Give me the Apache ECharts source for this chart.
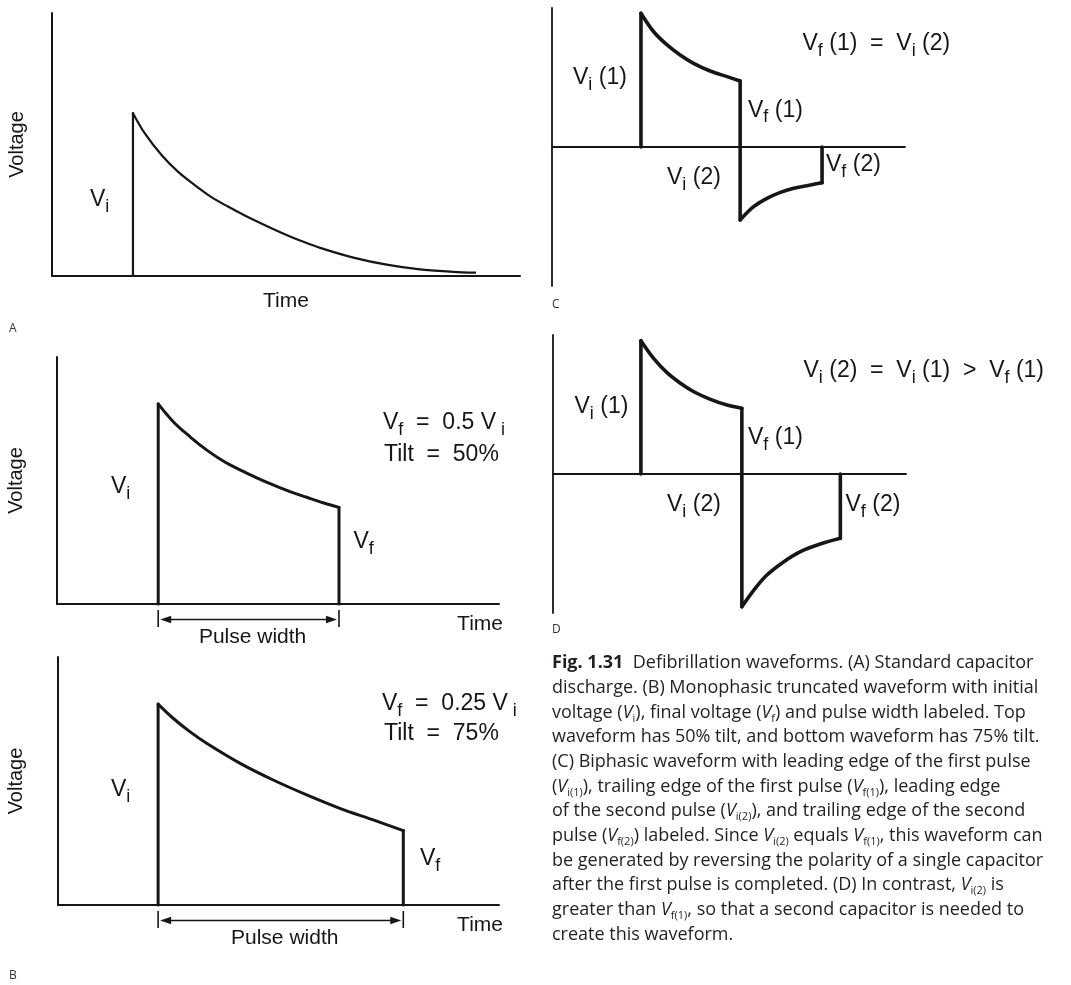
<!DOCTYPE html>
<html><head><meta charset="utf-8">
<script src="https://cdn.jsdelivr.net/npm/echarts@6/dist/echarts.min.js"></script>
<style>html,body{margin:0;padding:0;background:#fff}#c{width:1071px;height:985px}</style>
</head><body><div id="c"></div>
<script>
// ---- Data (time and voltage in % of each panel's axis range) ----
// Panel A: standard capacitor discharge
const aCurveT = [17.3, 19.8, 23.4, 26.9, 30.5, 34.0, 37.6, 41.2, 45.4, 50.1, 53.0, 57.3, 64.4, 71.5, 78.6, 85.7, 90.4];
const aCurveV = [61.9, 54.3, 46.0, 39.7, 34.6, 30.1, 26.4, 23.0, 19.4, 15.6, 13.5, 10.7, 7.0, 4.3, 2.5, 1.6, 1.25];
// Panel B (top): truncated, 50% tilt
const bTopT = [22.9, 26.3, 30.1, 33.9, 37.6, 41.4, 45.2, 48.9, 52.7, 56.5, 60.2, 63.8];
const bTopV = [81.0, 73.8, 67.7, 62.3, 57.9, 54.3, 51.1, 48.2, 45.5, 43.2, 41.0, 39.1];
// Panel B (bottom): truncated, 75% tilt
const bBotT = [22.7, 26.1, 29.9, 33.7, 41.3, 48.8, 56.4, 63.9, 71.5, 78.3];
const bBotV = [81.0, 75.3, 69.9, 65.2, 57.1, 50.4, 44.4, 39.0, 34.3, 30.0];
// Panel C: biphasic, single capacitor
const cPosT = [25.2, 28.8, 32.6, 36.3, 40.1, 44.8, 49.6, 53.3];
const cPosV = [96.2, 82.9, 73.4, 66.2, 60.2, 54.7, 50.6, 47.5];
const cNegT = [53.3, 57.1, 60.9, 64.7, 68.5, 73.2, 76.5];
const cNegV = [-52.5, -42.9, -36.9, -32.6, -29.7, -27.3, -25.7];
// Panel D: biphasic, second capacitor
const dPosT = [24.9, 28.5, 32.3, 36.1, 39.9, 44.6, 49.3, 53.5];
const dPosV = [95.9, 83.2, 72.9, 65.3, 59.2, 53.7, 49.6, 47.3];
const dNegT = [53.5, 56.9, 60.6, 65.4, 70.1, 75.7, 81.4];
const dNegV = [-95.5, -83.5, -72.7, -63.1, -55.9, -50.4, -46.3];

const captionLines = [
  [['b','Fig. 1.31'],['n','  Defibrillation waveforms. (A) Standard capacitor']],
  [['n','discharge. (B) Monophasic truncated waveform with initial']],
  [['n','voltage ('],['it','V'],['s','i'],['n','), final voltage ('],['it','V'],['s','f'],['n',') and pulse width labeled. Top']],
  [['n','waveform has 50% tilt, and bottom waveform has 75% tilt.']],
  [['n','(C) Biphasic waveform with leading edge of the first pulse']],
  [['n','('],['it','V'],['s','i(1)'],['n','), trailing edge of the first pulse ('],['it','V'],['s','f(1)'],['n','), leading edge']],
  [['n','of the second pulse ('],['it','V'],['s','i(2)'],['n','), and trailing edge of the second']],
  [['n','pulse ('],['it','V'],['s','f(2)'],['n',') labeled. Since '],['it','V'],['s','i(2)'],['n',' equals '],['it','V'],['s','f(1)'],['n',', this waveform can']],
  [['n','be generated by reversing the polarity of a single capacitor']],
  [['n','after the first pulse is completed. (D) In contrast, '],['it','V'],['s','i(2)'],['n',' is']],
  [['n','greater than '],['it','V'],['s','f(1)'],['n',', so that a second capacitor is needed to']],
  [['n','create this waveform.']]
];

// ---- Styling ----
const INK = '#161616';
const CAP = '#231f20';
const FONT = '"Liberation Sans", Arial, sans-serif';
const CFONT = '"Open Sans", sans-serif';
const CSIZE = 18;

const zip = (t, v) => t.map((x, i) => [x, v[i]]);
const last = a => a[a.length - 1];

function lineSeries(gi, data, w, smooth) {
  return {
    type: 'line', xAxisIndex: gi, yAxisIndex: gi, data,
    smooth: smooth ? 0.35 : false,
    symbol: 'none', showSymbol: false, silent: true, animation: false, clip: false,
    lineStyle: { color: INK, width: w, cap: 'round', join: 'round' }
  };
}

function pulseArrow(gi, t0, t1) {
  return {
    type: 'custom', xAxisIndex: gi, yAxisIndex: gi, data: [[t0, t1]], silent: true, animation: false, clip: false,
    renderItem(params, api) {
      const p0 = api.coord([api.value(0), 0]);
      const p1 = api.coord([api.value(1), 0]);
      const yA = p0[1] + 15.5, yT0 = p0[1] + 6, yT1 = p0[1] + 23;
      const ah = 11, aw = 3.8;
      const st = { stroke: INK, lineWidth: 1.6 };
      return {
        type: 'group', children: [
          { type: 'line', shape: { x1: p0[0], y1: yT0, x2: p0[0], y2: yT1 }, style: st },
          { type: 'line', shape: { x1: p1[0], y1: yT0, x2: p1[0], y2: yT1 }, style: st },
          { type: 'line', shape: { x1: p0[0] + 6, y1: yA, x2: p1[0] - 6, y2: yA }, style: st },
          { type: 'polygon', shape: { points: [[p0[0] + 2, yA], [p0[0] + 2 + ah, yA - aw], [p0[0] + 2 + ah, yA + aw]] }, style: { fill: INK } },
          { type: 'polygon', shape: { points: [[p1[0] - 2, yA], [p1[0] - 2 - ah, yA - aw], [p1[0] - 2 - ah, yA + aw]] }, style: { fill: INK } },
          { type: 'text', x: (p0[0] + p1[0]) / 2 + 4, y: p0[1] + 33.5,
            style: { text: 'Pulse width', font: '21px ' + FONT, fill: INK, align: 'center', verticalAlign: 'middle' } }
        ]
      };
    }
  };
}

function axisBase(gi, min, max, w) {
  return {
    type: 'value', gridIndex: gi, min, max, silent: true,
    axisLine: { show: true, onZero: true, lineStyle: { color: INK, width: w } },
    axisTick: { show: false }, axisLabel: { show: false }, splitLine: { show: false }
  };
}
const nameStyle = { fontFamily: FONT, fontSize: 20, color: INK };
const timeEnd = { name: 'Time', nameLocation: 'end', nameGap: 4,
  nameTextStyle: { fontFamily: FONT, fontSize: 21, color: INK, align: 'right', verticalAlign: 'top', padding: [10, 0, 0, 0] } };

function lab(x, y, parts) {
  return {
    type: 'text', x, y, silent: true,
    style: {
      text: parts.map(p => '{' + p[0] + '|' + p[1] + '}').join(''),
      font: '23px ' + FONT, fill: INK, align: 'left', verticalAlign: 'middle',
      rich: {
        m: { font: '23px ' + FONT, lineHeight: 32, fill: INK },
        s: { font: '18px ' + FONT, lineHeight: 18, verticalAlign: 'bottom', fill: INK }
      }
    }
  };
}
function letter(x, y, t) {
  return { type: 'text', x, y, silent: true,
    style: { text: t, font: '12px ' + CFONT, fill: '#333', align: 'left', verticalAlign: 'middle' } };
}

const graphics = [
  // Panel A
  lab(90, 200, [['m','V'],['s','i']]),
  letter(9, 329, 'A'),
  // Panel B top
  lab(383, 423, [['m','V'],['s','f'],['m','  =  0.5 V'],['s',' i']]),
  lab(384, 455, [['m','Tilt  =  50%']]),
  lab(111, 487, [['m','V'],['s','i']]),
  lab(353.5, 542, [['m','V'],['s','f']]),
  // Panel B bottom
  lab(382, 704, [['m','V'],['s','f'],['m','  =  0.25 V'],['s',' i']]),
  lab(384, 734, [['m','Tilt  =  75%']]),
  lab(111, 790, [['m','V'],['s','i']]),
  lab(420, 859, [['m','V'],['s','f']]),
  letter(9, 976, 'B'),
  // Panel C
  lab(802.5, 44, [['m','V'],['s','f'],['m',' (1)  =  V'],['s','i'],['m',' (2)']]),
  lab(573, 78, [['m','V'],['s','i'],['m',' (1)']]),
  lab(748, 110.5, [['m','V'],['s','f'],['m',' (1)']]),
  lab(667, 178, [['m','V'],['s','i'],['m',' (2)']]),
  lab(826, 165, [['m','V'],['s','f'],['m',' (2)']]),
  letter(552, 305, 'C'),
  // Panel D
  lab(803.5, 371, [['m','V'],['s','i'],['m',' (2)  =  V'],['s','i'],['m',' (1)  >  V'],['s','f'],['m',' (1)']]),
  lab(574.5, 406.7, [['m','V'],['s','i'],['m',' (1)']]),
  lab(748, 438, [['m','V'],['s','f'],['m',' (1)']]),
  lab(667, 504.7, [['m','V'],['s','i'],['m',' (2)']]),
  lab(845.5, 505, [['m','V'],['s','f'],['m',' (2)']]),
  letter(552, 630, 'D')
];

const capRich = {
  n: { font: CSIZE + 'px ' + CFONT, lineHeight: 23, fill: CAP },
  b: { font: 'bold ' + CSIZE + 'px ' + CFONT, lineHeight: 23, fill: CAP },
  it: { font: 'italic ' + CSIZE + 'px ' + CFONT, lineHeight: 23, fill: CAP },
  s: { font: '11px ' + CFONT, lineHeight: 11, verticalAlign: 'bottom', fill: CAP }
};
captionLines.forEach((ln, i) => {
  graphics.push({
    type: 'text', x: 552, y: 663 + i * 24.7, silent: true,
    style: { text: ln.map(p => '{' + p[0] + '|' + p[1] + '}').join(''), font: CSIZE + 'px ' + CFONT,
      fill: CAP, align: 'left', verticalAlign: 'middle', rich: capRich }
  });
});

const option = {
  animation: false,
  backgroundColor: '#ffffff',
  grid: [
    { left: 52, top: 13, width: 468, height: 263, outerBoundsMode: 'none' },
    { left: 57, top: 357, width: 442, height: 247, outerBoundsMode: 'none' },
    { left: 58, top: 657, width: 441, height: 248, outerBoundsMode: 'none' },
    { left: 552, top: 8, width: 353, height: 278, outerBoundsMode: 'none' },
    { left: 553, top: 335, width: 353, height: 278, outerBoundsMode: 'none' }
  ],
  xAxis: [
    Object.assign(axisBase(0, 0, 100, 2), { name: 'Time', nameLocation: 'middle', nameGap: 15,
      nameTextStyle: { fontFamily: FONT, fontSize: 21, color: INK, verticalAlign: 'top' } }),
    Object.assign(axisBase(1, 0, 100, 2), timeEnd),
    Object.assign(axisBase(2, 0, 100, 2), timeEnd),
    axisBase(3, 0, 100, 1.8),
    axisBase(4, 0, 100, 1.8)
  ],
  yAxis: [
    Object.assign(axisBase(0, 0, 100, 2), { name: 'Voltage', nameLocation: 'middle', nameRotate: 90, nameGap: 25, nameTextStyle: nameStyle }),
    Object.assign(axisBase(1, 0, 100, 2), { name: 'Voltage', nameLocation: 'middle', nameRotate: 90, nameGap: 31, nameTextStyle: nameStyle }),
    Object.assign(axisBase(2, 0, 100, 2), { name: 'Voltage', nameLocation: 'middle', nameRotate: 90, nameGap: 32, nameTextStyle: nameStyle }),
    axisBase(3, -100, 100, 1.8),
    axisBase(4, -100, 100, 1.8)
  ],
  series: [
    // A
    lineSeries(0, [[aCurveT[0], 0], [aCurveT[0], aCurveV[0]]], 2.2, false),
    lineSeries(0, zip(aCurveT, aCurveV), 2.2, true),
    // B top
    lineSeries(1, [[bTopT[0], 0], [bTopT[0], bTopV[0]]], 3, false),
    lineSeries(1, zip(bTopT, bTopV), 3, true),
    lineSeries(1, [[last(bTopT), last(bTopV)], [last(bTopT), 0]], 3, false),
    pulseArrow(1, bTopT[0], last(bTopT)),
    // B bottom
    lineSeries(2, [[bBotT[0], 0], [bBotT[0], bBotV[0]]], 3, false),
    lineSeries(2, zip(bBotT, bBotV), 3, true),
    lineSeries(2, [[last(bBotT), last(bBotV)], [last(bBotT), 0]], 3, false),
    pulseArrow(2, bBotT[0], last(bBotT)),
    // C
    lineSeries(3, [[cPosT[0], 0], [cPosT[0], cPosV[0]]], 3.6, false),
    lineSeries(3, zip(cPosT, cPosV), 3.6, true),
    lineSeries(3, [[last(cPosT), last(cPosV)], [cNegT[0], cNegV[0]]], 3.6, false),
    lineSeries(3, zip(cNegT, cNegV), 3.6, true),
    lineSeries(3, [[last(cNegT), last(cNegV)], [last(cNegT), 0]], 3.6, false),
    // D
    lineSeries(4, [[dPosT[0], 0], [dPosT[0], dPosV[0]]], 3.6, false),
    lineSeries(4, zip(dPosT, dPosV), 3.6, true),
    lineSeries(4, [[last(dPosT), last(dPosV)], [dNegT[0], dNegV[0]]], 3.6, false),
    lineSeries(4, zip(dNegT, dNegV), 3.6, true),
    lineSeries(4, [[last(dNegT), last(dNegV)], [last(dNegT), 0]], 3.6, false)
  ],
  graphic: { elements: graphics }
};

const chart = echarts.init(document.getElementById('c'), null, { renderer: 'canvas', width: 1071, height: 985 });
chart.setOption(option);
</script>
</body></html>
